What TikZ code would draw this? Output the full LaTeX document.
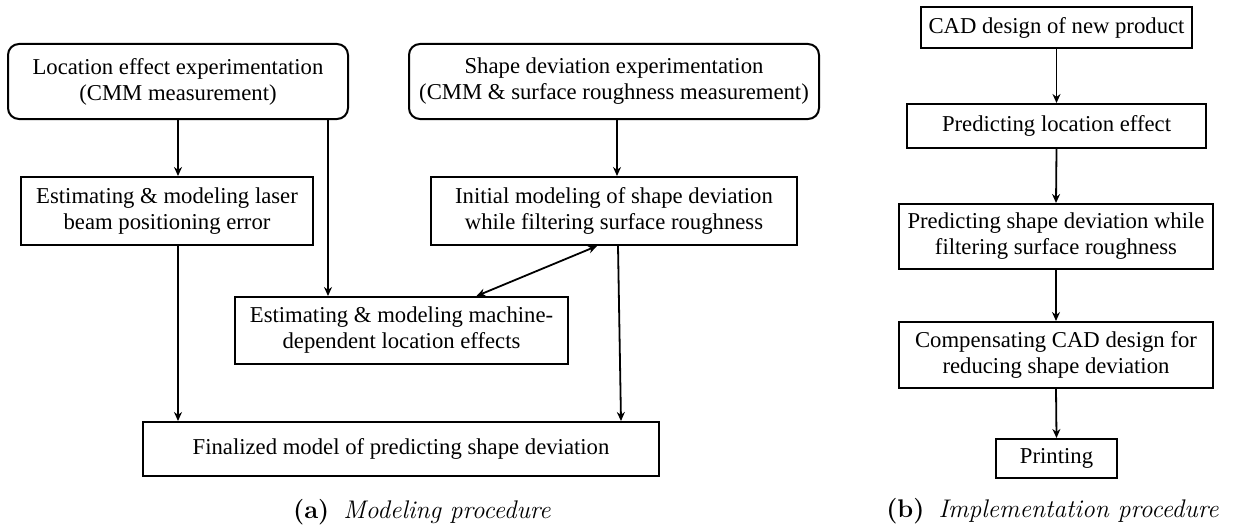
\documentclass[tikz,border=0pt]{standalone}
\usepackage{fontspec}
\newfontfamily\tnr{Liberation Serif}
\usetikzlibrary{arrows.meta}
\begin{document}
\begin{tikzpicture}[x=1pt,y=-1pt,
  box/.style={draw, line width=2pt, inner sep=0pt, align=center, font=\tnr\fontsize{22.7}{26}\selectfont},
  rbox/.style={box, rounded corners=11pt},
  arr/.style={line width=1.8pt, -{Stealth[length=9pt,width=8pt]}},
  darr/.style={line width=1.8pt, {Stealth[length=9pt,width=8pt]}-{Stealth[length=9pt,width=8pt]}},
  captext/.style={font=\fontsize{25.5}{28}\selectfont, anchor=base}]
\useasboundingbox (0,0) rectangle (1244,527);
% panel (a)
\node[rbox, minimum width=340pt, minimum height=75pt] (A) at (178,81.5) {Location effect experimentation\\(CMM measurement)};
\node[rbox, minimum width=410pt, minimum height=75pt] (B) at (614,81.5) {Shape deviation experimentation\\(CMM \& surface roughness measurement)};
\node[box, minimum width=292pt, minimum height=68pt] (C) at (167,211) {Estimating \& modeling laser\\beam positioning error};
\node[box, minimum width=366pt, minimum height=68pt] (D) at (614,211) {Initial modeling of shape deviation\\while filtering surface roughness};
\node[box, minimum width=333pt, minimum height=67pt] (E) at (401.5,330.5) {Estimating \& modeling machine-\\dependent location effects};
\node[box, minimum width=516pt, minimum height=54pt] (F) at (401,449) {Finalized model of predicting shape deviation};
\draw[arr] (A.south) -- (A.south |- C.north);
\draw[arr] ([xshift=150pt]A.south) -- ([xshift=150pt]A.south |- E.north);
\draw[arr] ([xshift=3pt]B.south) -- ([xshift=3pt]B.south |- D.north);
\draw[arr] ([xshift=11pt]C.south) -- ([xshift=11pt]C.south |- F.north);
\draw[arr] ([xshift=4pt]D.south) -- ([xshift=220pt]F.north);
\draw[darr] ([xshift=75pt]E.north) -- ([xshift=-17pt]D.south);
\node[captext] (capa) at (422,518) {\textbf{(a)}\hspace{0.55em}\textit{Modeling procedure}};
% panel (b)
\node[box, minimum width=271pt, minimum height=41pt] (G) at (1056.5,27.5) {CAD design of new product};
\node[box, minimum width=299pt, minimum height=44pt] (H) at (1056.5,126) {Predicting location effect};
\node[box, minimum width=314pt, minimum height=65pt] (I) at (1056,236.5) {Predicting shape deviation while\\filtering surface roughness};
\node[box, minimum width=314pt, minimum height=66pt] (J) at (1056,355) {Compensating CAD design for\\reducing shape deviation};
\node[box, minimum width=121pt, minimum height=39pt] (K) at (1056.5,458.5) {Printing};
\draw[arr] (G.south) -- (H.north);
\draw[arr] (H.south) -- (I.north);
\draw[arr] (I.south) -- (J.north);
\draw[arr] (J.south) -- (K.north);
\node[captext] (capb) at (1052.5,517) {\textbf{(b)}\hspace{0.55em}\textit{Implementation procedure}};
\end{tikzpicture}
\end{document}
